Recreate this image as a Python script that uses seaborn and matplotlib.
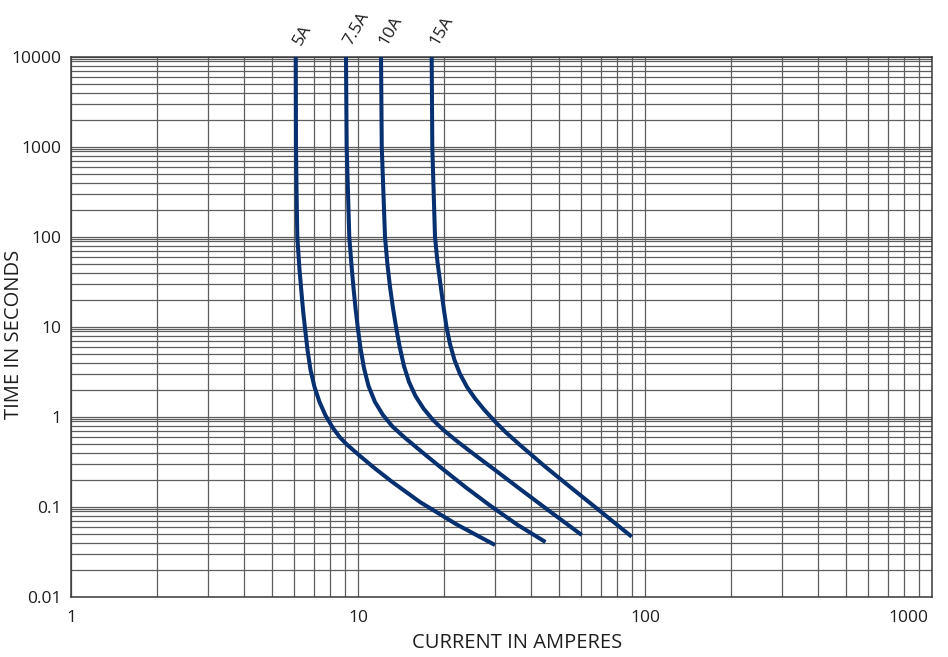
import numpy as np
import pandas as pd
import matplotlib
matplotlib.use("Agg")
import matplotlib.pyplot as plt
import matplotlib.ticker as mticker
import matplotlib.transforms as mtransforms
import seaborn as sns

# ---- data ----
ratings = ["5A", "7.5A", "10A", "15A"]

amps_5a = [6.07, 6.08, 6.11, 6.145, 6.255, 6.356, 6.449, 6.548, 6.67, 6.832, 7.055, 7.344,
           7.706, 8.182, 8.655, 9.132, 10.16, 11.46, 13.14, 16.44, 22.07, 30.02]
secs_5a = [10000, 1000, 300, 100, 43.0, 23.87, 14.31, 9.26, 5.55, 3.33, 2.154, 1.468,
           1.039, 0.754, 0.592, 0.497, 0.369, 0.268, 0.1905, 0.1136, 0.064, 0.0378]

amps_7a5 = [9.081, 9.132, 9.325, 9.491, 9.646, 9.801, 9.976, 10.20, 10.49, 10.88, 11.46,
            12.22, 13.19, 14.46, 16.71, 19.83, 23.78, 28.84, 35.81, 45.01]
secs_7a5 = [10000, 1000, 100, 48.85, 27.13, 16.26, 10.0, 5.843, 3.503, 2.211, 1.468,
            1.052, 0.784, 0.600, 0.408, 0.261, 0.1647, 0.1039, 0.0639, 0.0408]

amps_10a = [12.03, 12.10, 12.42, 12.67, 12.93, 13.24, 13.57, 13.95, 14.46, 15.06, 15.86,
            16.91, 18.25, 19.94, 22.31, 25.57, 30.02, 36.68, 46.67, 60.17]
secs_10a = [10000, 1000, 100, 48.85, 27.83, 16.26, 10.0, 6.15, 3.687, 2.448, 1.711,
            1.243, 0.926, 0.708, 0.5275, 0.378, 0.2577, 0.1585, 0.0891, 0.0489]

amps_15a = [18.06, 18.15, 18.55, 18.92, 19.39, 19.86, 20.34, 20.92, 21.69, 22.67, 23.98,
            25.57, 27.48, 29.78, 32.79, 36.68, 44.83, 55.68, 69.69, 89.87]
secs_15a = [10000, 1000, 100, 52.75, 29.29, 16.68, 10.0, 6.474, 4.299, 3.004, 2.154,
            1.606, 1.212, 0.9145, 0.6726, 0.4886, 0.2818, 0.1606, 0.0903, 0.0468]

x_ticks = [1, 10, 100, 1000]
x_tick_labels = ["1", "10", "100", "1000"]
y_ticks = [0.01, 0.1, 1, 10, 100, 1000, 10000]
y_tick_labels = ["0.01", "0.1", "1", "10", "100", "1000", "10000"]

series = [(ratings[0], amps_5a, secs_5a),
          (ratings[1], amps_7a5, secs_7a5),
          (ratings[2], amps_10a, secs_10a),
          (ratings[3], amps_15a, secs_15a)]
df = pd.concat([pd.DataFrame({"rating": r, "amps": a, "secs": s})
                for r, a, s in series], ignore_index=True)

# ---- styling ----
sns.set_style("white")
plt.rcParams["font.family"] = ["Open Sans", "DejaVu Sans"]

LINE = "#06306f"
GRID = "#5e5e5e"

fig = plt.figure(figsize=(9.48, 6.57), dpi=100)
ax = fig.add_axes([71/948, 1 - 597/657, (932 - 71)/948, (597 - 57)/657])

ax.set_xscale("log")
ax.set_yscale("log")
ax.set_xlim(1, 1000)
ax.set_ylim(0.01, 10000)

sns.lineplot(data=df, x="amps", y="secs", hue="rating", units="rating",
             estimator=None, sort=False, palette=[LINE] * 4, legend=False,
             linewidth=2.9, ax=ax)
for ln in ax.get_lines():
    ln.set_solid_capstyle("butt")
    ln.set_solid_joinstyle("round")
    ln.set_zorder(5)

ax.xaxis.set_major_locator(mticker.FixedLocator(x_ticks))
ax.xaxis.set_major_formatter(mticker.FixedFormatter(x_tick_labels))
ax.yaxis.set_major_locator(mticker.FixedLocator(y_ticks))
ax.yaxis.set_major_formatter(mticker.FixedFormatter(y_tick_labels))
ax.xaxis.set_minor_locator(mticker.LogLocator(base=10, subs=np.arange(2, 10), numticks=20))
ax.yaxis.set_minor_locator(mticker.LogLocator(base=10, subs=list(np.arange(2, 10)) + [9.5], numticks=20))
ax.xaxis.set_minor_formatter(mticker.NullFormatter())
ax.yaxis.set_minor_formatter(mticker.NullFormatter())

ax.grid(True, which="both", color=GRID, linewidth=0.9)
ax.set_axisbelow(True)
ax.tick_params(which="both", length=0, labelsize=12.5, colors="#1e1e1e")
ax.tick_params(axis="y", pad=7)
ax.tick_params(axis="x", pad=9)
for lab in ax.get_xticklabels():
    if lab.get_text() == "1000":
        lab.set_horizontalalignment("right")
        lab.set_transform(lab.get_transform() +
                          mtransforms.ScaledTranslation(-4/100, 0, fig.dpi_scale_trans))

for sp in ax.spines.values():
    sp.set_color("#3a3a3a")
    sp.set_linewidth(1.1)

ax.set_xlabel("CURRENT IN AMPERES", fontsize=14.5, color="#1e1e1e")
ax.set_ylabel("TIME IN SECONDS", fontsize=14.5, color="#1e1e1e")
ax.xaxis.set_label_coords(0.518, -0.066)
ax.yaxis.set_label_coords(-0.055, 0.487)

for r, a, s in series:
    ax.annotate(r, xy=(a[0], s[0]), xytext=(4, 8), textcoords="offset points",
                rotation=60, rotation_mode="anchor", ha="left", va="baseline",
                fontsize=12.5, color="#1e1e1e", annotation_clip=False)

fig.savefig("out.png", dpi=100)
